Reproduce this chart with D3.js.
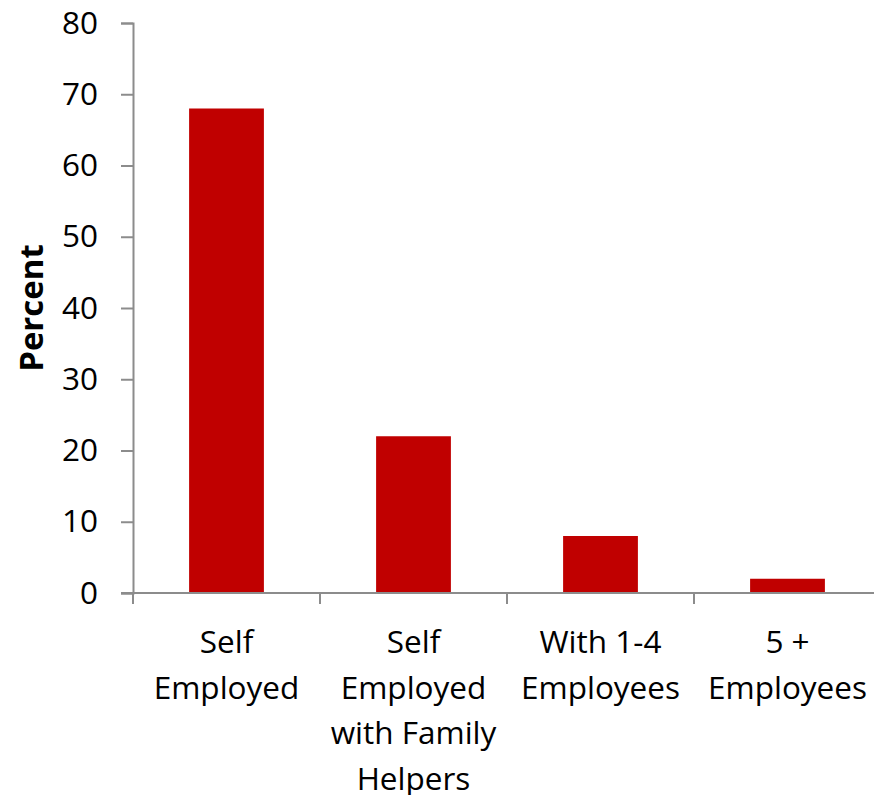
<!DOCTYPE html>
<html><head><meta charset="utf-8">
<script src="https://cdn.jsdelivr.net/npm/d3@7"></script>
<style>body{margin:0;background:#fff}svg{display:block}</style>
</head><body>
<svg id="chart" width="874" height="795"></svg>
<script>
const categories = [["Self","Employed"],["Self","Employed","with Family","Helpers"],["With 1-4","Employees"],["5 +","Employees"]];
const values = [68, 22, 8, 2];
const yTicks = [0,10,20,30,40,50,60,70,80];
const yTitle = "Percent";

(function(){
const svg = d3.select("#chart");
const font = "'Open Sans', sans-serif";
const fs = 31.5;
const mLeft = 133, mRight = 881, mTop = 23, mBottom = 593;
const keys = categories.map((c,i)=>i);
const x = d3.scaleBand().domain(keys).range([mLeft,mRight]).padding(0);
const y = d3.scaleLinear().domain([0,80]).range([mBottom,mTop]);
const axisColor = "#8c8c8c";

svg.selectAll("rect.bar").data(values).enter().append("rect")
  .attr("x",(d,i)=>x(i)+x.bandwidth()*0.3)
  .attr("width",x.bandwidth()*0.4)
  .attr("y",d=>y(d)).attr("height",d=>y(0)-y(d))
  .attr("fill","#C00000");

const ya = svg.append("g").attr("transform",`translate(${mLeft},0)`)
  .call(d3.axisLeft(y).tickValues(yTicks).tickSize(12).tickPadding(23));
ya.select(".domain").attr("stroke",axisColor).attr("stroke-width",2);
ya.selectAll(".tick line").attr("stroke",axisColor).attr("stroke-width",2);
ya.selectAll(".tick text").attr("font-family",font).attr("font-size",fs).attr("fill","#000");

const xa = svg.append("g").attr("transform",`translate(0,${mBottom})`);
xa.append("line").attr("x1",mLeft-12).attr("x2",874).attr("y1",0).attr("y2",0)
  .attr("stroke",axisColor).attr("stroke-width",2);
xa.selectAll("line.tk").data(keys).enter().append("line")
  .attr("x1",d=>x(d)).attr("x2",d=>x(d)).attr("y1",0).attr("y2",11)
  .attr("stroke",axisColor).attr("stroke-width",2);
const lab = xa.selectAll("text.cat").data(categories).enter().append("text")
  .attr("text-anchor","middle").attr("font-family",font).attr("font-size",fs).attr("fill","#000")
  .attr("transform",(d,i)=>`translate(${x(i)+x.bandwidth()/2},0)`);
lab.selectAll("tspan").data(d=>d).enter().append("tspan")
  .attr("x",0).attr("y",(d,j)=>60+j*45.5).text(d=>d);

svg.append("text").attr("transform","translate(43,308) rotate(-90)")
  .attr("text-anchor","middle").attr("font-family",font).attr("font-weight","bold")
  .attr("font-size",33).text(yTitle);
})();
</script>
</body></html>
